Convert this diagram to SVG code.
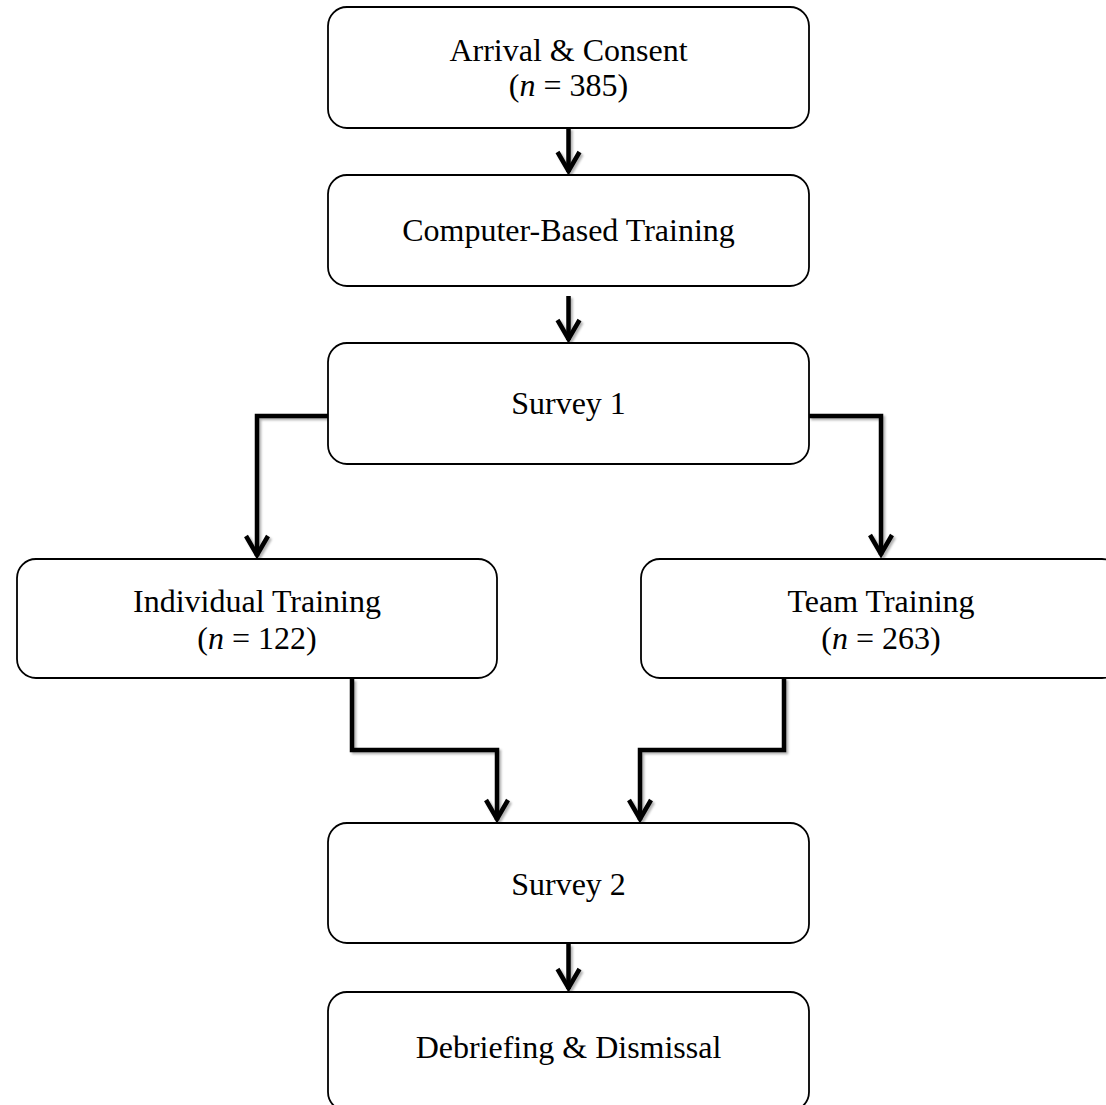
<svg xmlns="http://www.w3.org/2000/svg" width="1106" height="1105" viewBox="0 0 1106 1105">
  <defs>
    <style>
      .box { fill: #ffffff; stroke: #000000; stroke-width: 1.8; }
      .label { font-family: "Liberation Serif", "Times New Roman", serif; font-size: 32px; fill: #000000; text-anchor: middle; }
      .it { font-style: italic; }
      .wire { fill: none; stroke: #000000; stroke-width: 4.5; stroke-linejoin: miter; stroke-linecap: butt; }
    </style>
    <filter id="soft" x="-20%" y="-20%" width="140%" height="140%">
      <feDropShadow dx="2" dy="2" stdDeviation="1.2" flood-color="#000000" flood-opacity="0.3"/>
    </filter>
    <marker id="head" viewBox="-26 -16 30 32" refX="0" refY="0" markerWidth="30" markerHeight="32" markerUnits="userSpaceOnUse" orient="auto">
      <path d="M -20,-11 L -1,0 L -20,11" fill="none" stroke="#000000" stroke-width="4.5" stroke-linejoin="miter"/>
    </marker>
  </defs>

  <rect width="1106" height="1105" fill="#ffffff"/>

  <!-- connectors -->
  <g id="connectors" filter="url(#soft)">
    <path class="wire" d="M 568.5,128 V 172" marker-end="url(#head)"/>
    <path class="wire" d="M 568.5,296 V 340" marker-end="url(#head)"/>
    <path class="wire" d="M 328,416 H 257 V 556" marker-end="url(#head)"/>
    <path class="wire" d="M 809,416 H 881 V 555" marker-end="url(#head)"/>
    <path class="wire" d="M 352,679 V 750 H 497 V 820" marker-end="url(#head)"/>
    <path class="wire" d="M 784,678 V 750 H 640 V 820" marker-end="url(#head)"/>
    <path class="wire" d="M 568.5,944 V 989" marker-end="url(#head)"/>
  </g>

  <!-- nodes -->
  <g id="arrival">
    <rect class="box" x="328" y="7" width="481" height="121" rx="19"/>
    <text class="label" x="568.5" y="61">Arrival &amp; Consent</text>
    <text class="label" x="568.5" y="96">(<tspan class="it">n</tspan> = 385)</text>
  </g>

  <g id="cbt">
    <rect class="box" x="328" y="175" width="481" height="111" rx="19"/>
    <text class="label" x="568.5" y="241">Computer-Based Training</text>
  </g>

  <g id="survey1">
    <rect class="box" x="328" y="343" width="481" height="121" rx="19"/>
    <text class="label" x="568.5" y="414">Survey 1</text>
  </g>

  <g id="individual">
    <rect class="box" x="17" y="559" width="480" height="119" rx="19"/>
    <text class="label" x="257" y="612">Individual Training</text>
    <text class="label" x="257" y="649">(<tspan class="it">n</tspan> = 122)</text>
  </g>

  <g id="team">
    <rect class="box" x="641" y="559" width="480" height="119" rx="19"/>
    <text class="label" x="881" y="612">Team Training</text>
    <text class="label" x="881" y="649">(<tspan class="it">n</tspan> = 263)</text>
  </g>

  <g id="survey2">
    <rect class="box" x="328" y="823" width="481" height="120" rx="19"/>
    <text class="label" x="568.5" y="895">Survey 2</text>
  </g>

  <g id="debrief">
    <rect class="box" x="328" y="992" width="481" height="119" rx="19"/>
    <text class="label" x="568.5" y="1058">Debriefing &amp; Dismissal</text>
  </g>
</svg>
